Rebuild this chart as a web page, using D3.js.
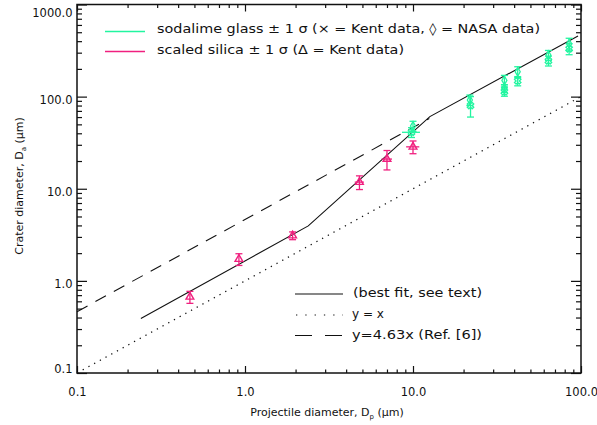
<!DOCTYPE html>
<html><head><meta charset="utf-8">
<script src="https://cdn.jsdelivr.net/npm/d3@7"></script>
<style>body{margin:0;background:#fff} svg{display:block}</style>
</head><body><svg id="c" width="597" height="425"></svg>
<script>
// ---- data ----
const xMajor = [0.1, 1, 10, 100];
const xMajorLabels = ["0.1", "1.0", "10.0", "100.0"];
const yMajor = [0.1, 1, 10, 100, 1000];
const yMajorLabels = ["0.1", "1.0", "10.0", "100.0", "1000.0"];

// best fit (piecewise)
const fitX = [0.24, 2.38, 12.6, 96];
const fitY = [0.39, 3.95, 60.7, 456];
// y = x
const idX = [0.1, 100];
const idY = [0.1, 100];
// y = 4.63x (Ref. [6])
const refX = [0.1, 12.5];
const refY = [0.463, 57.9];

// scaled silica (Kent data), triangles
const silicaX = [0.47, 0.92, 1.92, 4.8, 7.0, 10.0];
const silicaY = [0.67, 1.72, 3.1, 11.8, 21, 28.5];
const silicaErr = [0.1, 0.25, 0.3, 2.0, 5.0, 4.5];
const silicaXErr = [0, 0, 0, 0.3, 0.5, 0.9];

// sodalime glass, Kent data (x)
const sodaKentX = [9.8, 22, 35, 42, 64, 85];
const sodaKentY = [41, 80, 113, 148, 245, 330];
const sodaKentErr = [5, 20, 12, 17, 30, 45];
const sodaKentXErr = [1.2, 0, 0, 0, 0, 0];
// sodalime glass, NASA data (diamond)
const sodaNasaX = [10, 21.8, 35, 35, 42, 64, 85];
const sodaNasaY = [48, 92, 150, 123, 186, 282, 375];
const sodaNasaErr = [6, 12, 20, 12, 25, 35, 55];

const GREEN = "#22f5a0", MAGENTA = "#f0207f";
const FONT = "DejaVu Sans, Liberation Sans, sans-serif";

// ---- setup ----
const svg = d3.select("#c");
const L = 77, R = 581, T = 4.5, B = 373;
const x = d3.scaleLog().domain([0.1, 100]).range([L, R]);
const y = d3.scaleLog().domain([0.1, 1000]).range([B, T]);

const isMajor = v => Math.abs(Math.log10(v) - Math.round(Math.log10(v))) < 1e-9;
const xMinor = x.ticks().filter(v => !isMajor(v));
const yMinor = y.ticks().filter(v => !isMajor(v));

function styleAxis(g) {
  g.select(".domain").remove();
  g.selectAll(".tick line").attr("stroke", "#111").attr("stroke-width", 1.2);
  g.selectAll("text").attr("font-family", FONT).attr("font-size", 11.5).attr("fill", "#111");
}

// bottom
svg.append("g").attr("transform", `translate(0,${B})`)
  .call(d3.axisBottom(x).tickValues(xMajor).tickSizeInner(-7).tickSizeOuter(0).tickPadding(15)
    .tickFormat((d, i) => xMajorLabels[i])).call(styleAxis);
svg.append("g").attr("transform", `translate(0,${B})`)
  .call(d3.axisBottom(x).tickValues(xMinor).tickSizeInner(-3.5).tickSizeOuter(0).tickFormat(""))
  .call(styleAxis);
// top
svg.append("g").attr("transform", `translate(0,${T})`)
  .call(d3.axisTop(x).tickValues(xMajor).tickSizeInner(-7).tickSizeOuter(0).tickFormat(""))
  .call(styleAxis);
svg.append("g").attr("transform", `translate(0,${T})`)
  .call(d3.axisTop(x).tickValues(xMinor).tickSizeInner(-3.5).tickSizeOuter(0).tickFormat(""))
  .call(styleAxis);
// left
const yShift = [-4.5, 3, 3, 2.5, 8];
const gl = svg.append("g").attr("transform", `translate(${L},0)`)
  .call(d3.axisLeft(y).tickValues(yMajor).tickSizeInner(-10).tickSizeOuter(0).tickPadding(4.5)
    .tickFormat((d, i) => yMajorLabels[i])).call(styleAxis);
gl.selectAll(".tick text").attr("dy", null).attr("dominant-baseline", "central")
  .attr("y", (d, i) => yShift[i]);
svg.append("g").attr("transform", `translate(${L},0)`)
  .call(d3.axisLeft(y).tickValues(yMinor).tickSizeInner(-5).tickSizeOuter(0).tickFormat(""))
  .call(styleAxis);
// right
svg.append("g").attr("transform", `translate(${R},0)`)
  .call(d3.axisRight(y).tickValues(yMajor).tickSizeInner(-10).tickSizeOuter(0).tickFormat(""))
  .call(styleAxis);
svg.append("g").attr("transform", `translate(${R},0)`)
  .call(d3.axisRight(y).tickValues(yMinor).tickSizeInner(-5).tickSizeOuter(0).tickFormat(""))
  .call(styleAxis);

// frame
svg.append("rect").attr("x", L).attr("y", T).attr("width", R - L).attr("height", B - T)
  .attr("fill", "none").attr("stroke", "#111").attr("stroke-width", 1.5);

// ---- lines ----
const lineGen = d3.line().x(d => x(d[0])).y(d => y(d[1]));
const zip = (a, b) => a.map((v, i) => [v, b[i]]);
svg.append("path").attr("d", lineGen(zip(idX, idY))).attr("fill", "none").attr("stroke", "#111")
  .attr("stroke-width", 1.2).attr("stroke-dasharray", "1.3,5.2");
svg.append("path").attr("d", lineGen(zip(refX, refY))).attr("fill", "none").attr("stroke", "#111")
  .attr("stroke-width", 1.1).attr("stroke-dasharray", "12,9");
svg.append("path").attr("d", lineGen(zip(fitX, fitY))).attr("fill", "none").attr("stroke", "#111")
  .attr("stroke-width", 1.1);

// ---- error bars & markers ----
function errBars(xs, ys, es, xes, color) {
  const g = svg.append("g").attr("stroke", color).attr("stroke-width", 1.3).attr("fill", "none");
  xs.forEach((xv, i) => {
    const px = x(xv), y1 = y(ys[i] + es[i]), y2 = y(ys[i] - es[i]);
    g.append("line").attr("x1", px).attr("x2", px).attr("y1", y1).attr("y2", y2);
    g.append("line").attr("x1", px - 3.5).attr("x2", px + 3.5).attr("y1", y1).attr("y2", y1);
    g.append("line").attr("x1", px - 3.5).attr("x2", px + 3.5).attr("y1", y2).attr("y2", y2);
    if (xes && xes[i] > 0) {
      const py = y(ys[i]);
      g.append("line").attr("x1", x(xv - xes[i])).attr("x2", x(xv + xes[i])).attr("y1", py).attr("y2", py);
    }
  });
  return g;
}
errBars(sodaNasaX, sodaNasaY, sodaNasaErr, null, GREEN);
errBars(sodaKentX, sodaKentY, sodaKentErr, sodaKentXErr, GREEN);
errBars(silicaX, silicaY, silicaErr, silicaXErr, MAGENTA);

// diamonds (NASA)
svg.append("g").selectAll("path").data(zip(sodaNasaX, sodaNasaY)).join("path")
  .attr("transform", d => `translate(${x(d[0])},${y(d[1])})`)
  .attr("d", d3.symbol(d3.symbolDiamond, 22)).attr("fill", "none")
  .attr("stroke", GREEN).attr("stroke-width", 1.3);
// crosses (Kent)
svg.append("g").selectAll("path").data(zip(sodaKentX, sodaKentY)).join("path")
  .attr("transform", d => `translate(${x(d[0])},${y(d[1])}) rotate(45)`)
  .attr("d", d3.symbol(d3.symbolCross, 26)).attr("fill", "none")
  .attr("stroke", GREEN).attr("stroke-width", 1.3);
// triangles (silica)
svg.append("g").selectAll("path").data(zip(silicaX, silicaY)).join("path")
  .attr("transform", d => `translate(${x(d[0])},${y(d[1])})`)
  .attr("d", d3.symbol(d3.symbolTriangle, 26)).attr("fill", "none")
  .attr("stroke", MAGENTA).attr("stroke-width", 1.4);

// ---- legends ----
function legendText(tx, ty, str, len, size) {
  svg.append("text").attr("x", tx).attr("y", ty).attr("font-family", FONT)
    .attr("font-size", size).attr("fill", "#111").attr("textLength", len)
    .attr("lengthAdjust", "spacingAndGlyphs").text(str);
}
svg.append("path").attr("d", "M105,31.5H145").attr("fill", "none")
  .style("stroke", GREEN).style("stroke-width", 1.6);
legendText(157, 33, "sodalime glass \u00B1 1 \u03C3 (\u00D7 = Kent data, \u25CA = NASA data)", 383, 12.5);
svg.append("path").attr("d", "M105,51.5H145").attr("fill", "none")
  .style("stroke", MAGENTA).style("stroke-width", 1.6);
legendText(157, 53.5, "scaled silica \u00B1 1 \u03C3 (\u0394 = Kent data)", 247, 12.5);

svg.append("line").attr("x1", 295).attr("x2", 343).attr("y1", 294).attr("y2", 294)
  .attr("stroke", "#111").attr("stroke-width", 1.1);
legendText(353, 297, "(best fit, see text)", 129, 12.5);
svg.append("line").attr("x1", 296).attr("x2", 343).attr("y1", 315).attr("y2", 315)
  .attr("stroke", "#111").attr("stroke-width", 1.2).attr("stroke-dasharray", "1.3,8");
legendText(352, 318, "y = x", 32, 12.5);
svg.append("line").attr("x1", 295).attr("x2", 343).attr("y1", 335.5).attr("y2", 335.5)
  .attr("stroke", "#111").attr("stroke-width", 1.1).attr("stroke-dasharray", "17,13");
legendText(352, 339, "y=4.63x (Ref. [6])", 130, 12.5);

// ---- axis titles ----
const xt = svg.append("text").attr("x", 327).attr("y", 415.5).attr("text-anchor", "middle")
  .attr("font-family", FONT).attr("font-size", 11).attr("fill", "#111");
xt.append("tspan").text("Projectile diameter, D");
xt.append("tspan").attr("font-size", 7).attr("dy", 3).text("p");
xt.append("tspan").attr("dy", -3).text(" (\u03BCm)");

const yt = svg.append("text").attr("transform", "translate(23,186) rotate(-90)")
  .attr("text-anchor", "middle").attr("font-family", FONT).attr("font-size", 11).attr("fill", "#111");
yt.append("tspan").text("Crater diameter, D");
yt.append("tspan").attr("font-size", 7).attr("dy", 3).text("a");
yt.append("tspan").attr("dy", -3).text(" (\u03BCm)");
</script></body></html>
